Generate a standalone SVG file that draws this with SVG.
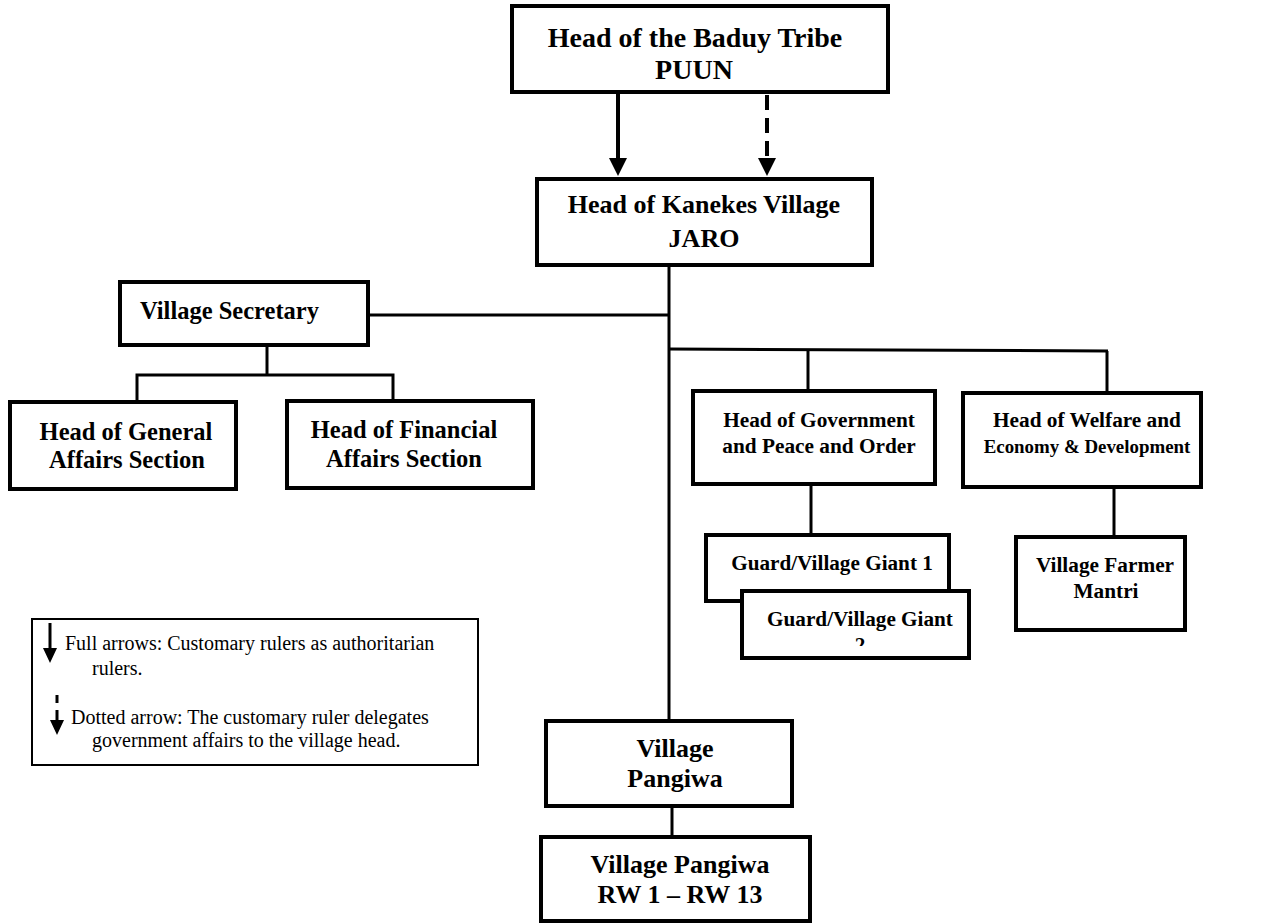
<svg xmlns="http://www.w3.org/2000/svg" width="1266" height="923" viewBox="0 0 1266 923">
<style>
.box{fill:#fff;stroke:#000;stroke-width:4}
.lg{fill:#fff;stroke:#000;stroke-width:2}
.c{fill:none;stroke:#000;stroke-width:3}
.t{font-family:"Liberation Serif","Times New Roman",serif;font-weight:bold;fill:#000}
.r{font-family:"Liberation Serif","Times New Roman",serif;fill:#000;font-size:20px}
.m{text-anchor:middle}
</style>
<defs>
<clipPath id="g2clip"><rect x="744" y="593" width="223" height="53"/></clipPath>
</defs>
<rect width="1266" height="923" fill="#fff"/>
<g id="connectors">
<line class="c" x1="669" y1="265" x2="669" y2="721"/>
<line class="c" x1="368" y1="315" x2="669" y2="315"/>
<line class="c" x1="669" y1="349" x2="1108" y2="351"/>
<line class="c" x1="808" y1="350" x2="808" y2="391"/>
<line class="c" x1="1107" y1="351" x2="1107" y2="393"/>
<line class="c" x1="267" y1="345" x2="267" y2="375"/>
<polyline class="c" points="137,402 137,375 393,375 393,401"/>
<line class="c" x1="811" y1="484" x2="811" y2="535"/>
<line class="c" x1="1114" y1="487" x2="1114" y2="537"/>
<line class="c" x1="672" y1="806" x2="672" y2="837"/>
<line stroke="#000" stroke-width="4" x1="618" y1="92" x2="618" y2="162"/>
<polygon points="609,158 627,158 618,176"/>
<line stroke="#000" stroke-width="4" stroke-dasharray="15,8" x1="767" y1="95" x2="767" y2="160"/>
<polygon points="758,158 776,158 767,176"/>
</g>
<g id="puun"><rect class="box" x="512" y="6" width="376" height="86"/>
<text class="t m" x="695" y="47" font-size="28">Head of the Baduy Tribe</text>
<text class="t m" x="694" y="79" font-size="28">PUUN</text></g>
<g id="jaro"><rect class="box" x="537" y="179" width="335" height="86"/>
<text class="t m" x="704" y="213" font-size="26">Head of Kanekes Village</text>
<text class="t m" x="704" y="247" font-size="26">JARO</text></g>
<g id="secretary"><rect class="box" x="120" y="282" width="248" height="63"/>
<text class="t" x="140" y="319" font-size="24.5">Village Secretary</text></g>
<g id="general"><rect class="box" x="10" y="402" width="226" height="87"/>
<text class="t m" x="126" y="440" font-size="24.5">Head of General</text>
<text class="t m" x="127" y="468" font-size="24.5">Affairs Section</text></g>
<g id="financial"><rect class="box" x="287" y="401" width="246" height="87"/>
<text class="t m" x="404" y="438" font-size="24.5">Head of Financial</text>
<text class="t m" x="404" y="467" font-size="24.5">Affairs Section</text></g>
<g id="government"><rect class="box" x="693" y="391" width="242" height="93"/>
<text class="t m" x="819" y="427" font-size="21.3">Head of Government</text>
<text class="t m" x="819" y="453" font-size="21.3">and Peace and Order</text></g>
<g id="welfare"><rect class="box" x="963" y="393" width="238" height="94"/>
<text class="t m" x="1087" y="427" font-size="21.3">Head of Welfare and</text>
<text class="t m" x="1087" y="453" font-size="18.9">Economy &amp; Development</text></g>
<g id="guard1"><rect class="box" x="706" y="535" width="243" height="66"/>
<text class="t m" x="832" y="570" font-size="21.2">Guard/Village Giant 1</text></g>
<g id="guard2"><rect class="box" x="742" y="591" width="227" height="67"/>
<g clip-path="url(#g2clip)">
<text class="t m" x="860" y="626" font-size="21.2">Guard/Village Giant</text>
<text class="t m" x="860" y="652" font-size="21.2">2</text></g></g>
<g id="farmer"><rect class="box" x="1016" y="537" width="169" height="93"/>
<text class="t m" x="1105" y="572" font-size="21.3">Village Farmer</text>
<text class="t m" x="1106" y="598" font-size="21.3">Mantri</text></g>
<g id="pangiwa"><rect class="box" x="546" y="721" width="246" height="85"/>
<text class="t m" x="675" y="757" font-size="26">Village</text>
<text class="t m" x="675" y="787" font-size="26">Pangiwa</text></g>
<g id="rw"><rect class="box" x="541" y="837" width="269" height="84"/>
<text class="t m" x="680" y="873" font-size="26">Village Pangiwa</text>
<text class="t m" x="680" y="903" font-size="26">RW 1 – RW 13</text></g>
<g id="legend"><rect class="lg" x="32" y="619" width="446" height="146"/>
<line stroke="#000" stroke-width="3" x1="50" y1="623" x2="50" y2="652"/>
<polygon points="43,648 57,648 50,663"/>
<text class="r" x="65" y="650">Full arrows: Customary rulers as authoritarian</text>
<text class="r" x="92" y="675">rulers.</text>
<line stroke="#000" stroke-width="3" x1="57" y1="695" x2="57" y2="703"/>
<line stroke="#000" stroke-width="3" x1="57" y1="710" x2="57" y2="724"/>
<polygon points="50,720 64,720 57,735"/>
<text class="r" x="71" y="724">Dotted arrow: The customary ruler delegates</text>
<text class="r" x="92" y="747">government affairs to the village head.</text></g>
</svg>
